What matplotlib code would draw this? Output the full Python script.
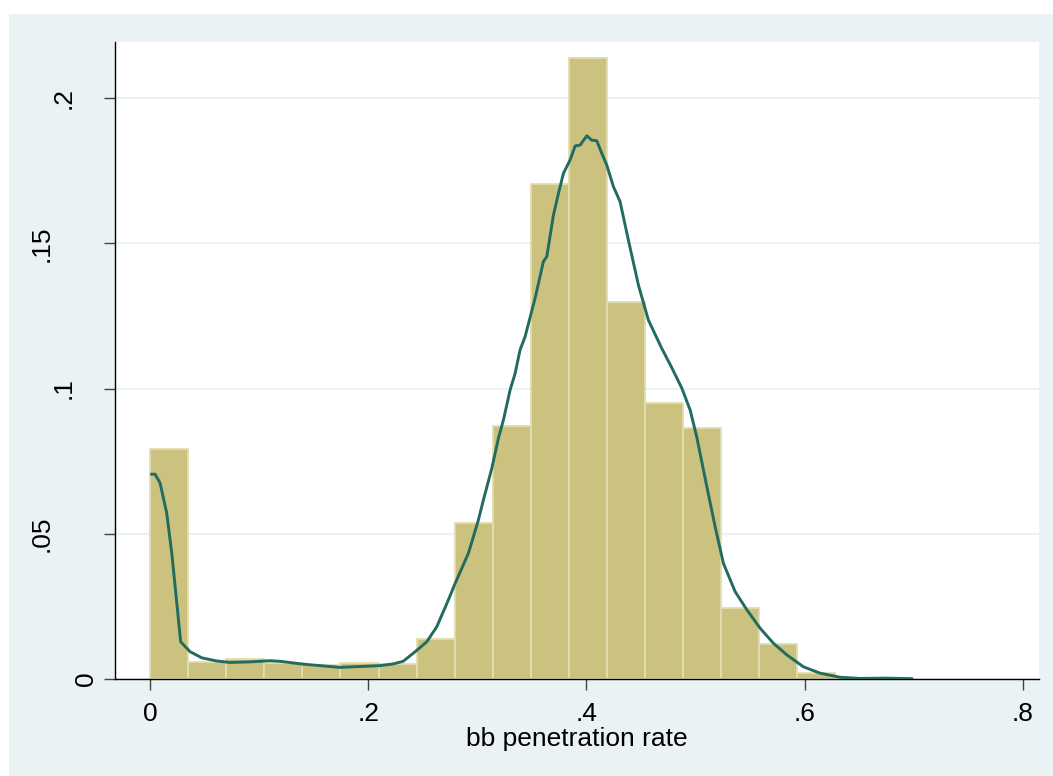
import numpy as np
import matplotlib
matplotlib.use("Agg")
import matplotlib.pyplot as plt
from matplotlib.patches import Rectangle
from matplotlib.transforms import offset_copy

plt.rcParams['font.family'] = ['Liberation Sans', 'DejaVu Sans']

# histogram (fraction per bin), 20 bins of equal width starting at 0
bin_width = 0.0349
bar_heights = [0.0791, 0.0060, 0.0068, 0.0054, 0.0048, 0.0054, 0.0052, 0.0139,
               0.0536, 0.0871, 0.1704, 0.2137, 0.1299, 0.0949, 0.0865, 0.0243,
               0.0121, 0.0021, 0.0003, 0.0002]

# kernel density curve
kde_x = [0.0016, 0.0046, 0.0092, 0.0153, 0.0199, 0.0245, 0.0281, 0.0367, 0.0474,
         0.0611, 0.0733, 0.0917, 0.110, 0.119, 0.1405, 0.162, 0.174, 0.1863,
         0.2108, 0.223, 0.232, 0.243, 0.2536, 0.2628, 0.2734, 0.2796, 0.2918,
         0.3009, 0.3055, 0.3132, 0.3193, 0.3239, 0.330, 0.3346, 0.3391, 0.3437,
         0.3477, 0.3529, 0.3605, 0.3636, 0.3697, 0.3743, 0.3789, 0.385, 0.3896,
         0.3941, 0.4003, 0.4048, 0.4094, 0.414, 0.4186, 0.4247, 0.4308, 0.4384,
         0.4476, 0.4567, 0.469, 0.478, 0.4874, 0.495, 0.501, 0.5103, 0.5179,
         0.5255, 0.5362, 0.547, 0.5591, 0.5713, 0.5836, 0.5988, 0.6141, 0.6324,
         0.6508, 0.675, 0.698]
kde_y = [0.0705, 0.0705, 0.0675, 0.0571, 0.0434, 0.0262, 0.0128, 0.0094, 0.0073,
         0.0062, 0.0057, 0.0059, 0.0063, 0.0061, 0.0051, 0.0044, 0.0040, 0.0042,
         0.0046, 0.0052, 0.0061, 0.0094, 0.0128, 0.0180, 0.0272, 0.0329, 0.0433,
         0.0547, 0.0616, 0.0725, 0.0829, 0.0892, 0.0995, 0.1052, 0.1133, 0.1178,
         0.1236, 0.1311, 0.1437, 0.1454, 0.1597, 0.1672, 0.1741, 0.1787, 0.1835,
         0.1838, 0.1870, 0.1855, 0.1853, 0.1810, 0.1769, 0.1695, 0.1643, 0.1511,
         0.1356, 0.1236, 0.1138, 0.1073, 0.1001, 0.0926, 0.0834, 0.0662, 0.0524,
         0.0398, 0.0301, 0.0238, 0.0175, 0.0123, 0.0083, 0.0042, 0.0020, 0.0006,
         0.0002, 0.0003, 0.0001]

xticks = [0, 0.2, 0.4, 0.6, 0.8]
xtick_labels = ['0', '.2', '.4', '.6', '.8']
yticks = [0, 0.05, 0.1, 0.15, 0.2]
ytick_labels = ['0', '.05', '.1', '.15', '.2']

W, H = 1053, 776
fig = plt.figure(figsize=(W / 100, H / 100), dpi=100, facecolor='white')
fig.patches.append(Rectangle((9 / W, 0), 1, (H - 14) / H, transform=fig.transFigure,
                             facecolor='#EAF2F3', edgecolor='none', zorder=-10))

ax = fig.add_axes([115 / W, (H - 679) / H, (1039 - 115) / W, (679 - 42) / H])
ax.set_facecolor('white')

lefts = np.arange(len(bar_heights)) * bin_width
ax.bar(lefts, bar_heights, width=bin_width, align='edge', color='#CAC27E',
       edgecolor='#E2DDAE', linewidth=1.3, zorder=2)
ax.plot(kde_x, kde_y, color='#226B61', linewidth=2.1, zorder=3)

ax.set_xlim(-0.0321, 0.8147)
ax.set_ylim(0, 0.2193)

ax.set_xticks(xticks)
ax.set_xticklabels(xtick_labels, fontsize=19)
ax.set_yticks(yticks)
ax.set_yticklabels([])
ax.tick_params(direction='out', length=8, width=1, color='#444444', pad=8.5)

# rotated y labels, Stata style
for v, lab in zip(yticks, ytick_labels):
    tr = offset_copy(ax.get_yaxis_transform(), fig=fig, x=-(7 + 22 * len(lab)), y=0, units='dots')
    ax.text(0, v, lab, transform=tr, rotation=90, ha='center', va='center', fontsize=19)

ax.set_axisbelow(True)
ax.yaxis.grid(True, color='#EAF2F3', linewidth=1.5)
ax.xaxis.grid(False)

for s in ['top', 'right']:
    ax.spines[s].set_visible(False)
for s in ['left', 'bottom']:
    ax.spines[s].set_color('black')
    ax.spines[s].set_linewidth(1.0)

ax.set_xlabel('bb penetration rate', fontsize=19, labelpad=1)

plt.savefig('out.png', dpi=100)
